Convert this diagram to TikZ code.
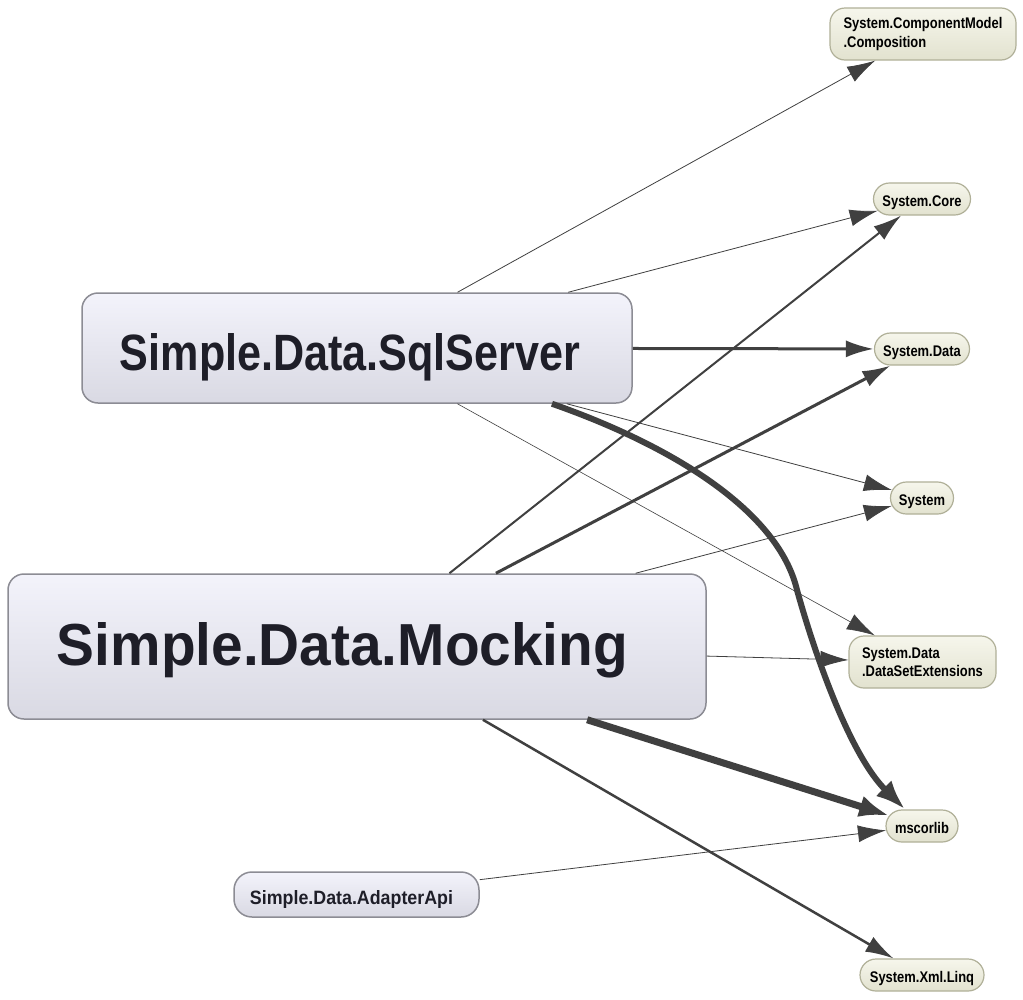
\documentclass[tikz,border=0pt]{standalone}
\usepackage{fontspec}
\usepackage{graphicx}
\newfontfamily\nf[FakeStretch=0.84]{Liberation Sans}
\newfontfamily\lsfont{Liberation Sans}
\usetikzlibrary{arrows.meta,shapes.misc}
\definecolor{edgec}{HTML}{404040}
\definecolor{txt}{HTML}{1E1E28}
\definecolor{bigborder}{HTML}{8C8C94}
\definecolor{bigtop}{HTML}{F3F3FB}
\definecolor{bigbot}{HTML}{D9D9E3}
\definecolor{smborder}{HTML}{B0B098}
\definecolor{smtop}{HTML}{F6F6EC}
\definecolor{smbot}{HTML}{E2E2CF}
\newcommand{\bigtext}[3]{\resizebox{#1}{#2}{\lsfont\bfseries #3}}
\tikzset{
  bignode/.style={draw=bigborder, line width=1.5pt, rounded corners=16pt, top color=bigtop, bottom color=bigbot, text=txt, inner sep=0pt, text depth=0pt},
  smallnode/.style={rounded rectangle, draw=smborder, line width=1.2pt, top color=smtop, bottom color=smbot, text=black, inner xsep=2pt, inner ysep=0pt, minimum height=32pt, text height=14pt, text depth=0pt, font=\nf\bfseries\fontsize{15.4}{18}\selectfont},
  smalltwo/.style={rectangle, rounded corners=15pt, draw=smborder, line width=1.2pt, top color=smtop, bottom color=smbot, text=black, inner xsep=8pt, inner ysep=0pt, minimum height=52pt, align=left, font=\nf\bfseries\fontsize{15.4}{18.5}\selectfont},
  edge/.style={draw=edgec, -{Latex[length=28pt,width=17pt]}, line width=1pt},
  heavy/.style={draw=edgec, -{Latex[length=30pt,width=22pt]}},
}
\begin{document}
\begin{tikzpicture}[x=1pt,y=-1pt]
\path[use as bounding box, fill=white] (0,0) rectangle (1023,999);
% target nodes
\node[smalltwo, minimum width=186pt] (comp) at (923,34) {System.ComponentModel\\.Composition};
\node[smallnode, minimum width=101pt] (core) at (922,199) {System.Core};
\node[smallnode, minimum width=99pt] (data) at (922,349) {System.Data};
\node[smallnode, minimum width=67pt] (sys) at (922,498) {System};
\node[smalltwo, minimum width=147pt] (dse) at (922.5,662) {System.Data\\.DataSetExtensions};
\node[smallnode, minimum width=76pt] (msc) at (922,826) {mscorlib};
\node[smallnode, minimum width=128pt] (xml) at (922,975) {System.Xml.Linq};
% source nodes
\node[bignode, minimum width=550pt, minimum height=110pt, text height=44pt] (sql) at (357,348) {\bigtext{460pt}{37pt}{Simple.Data.SqlServer}\kern14pt};
\node[bignode, minimum width=698pt, minimum height=145pt, text height=37pt] (mock) at (357,646.5) {\bigtext{571pt}{43pt}{Simple.Data.Mocking}\kern29pt};
\node[bignode, rounded corners=18pt, minimum width=245pt, minimum height=45pt, text height=19pt] (adapt) at (356.5,894.5) {\bigtext{203pt}{14pt}{Simple.Data.AdapterApi}\kern10pt};
% edges from SqlServer
\draw[edge, line width=0.8pt] (sql) -- (comp);
\draw[edge, line width=0.8pt] (sql) -- (core);
\draw[edge, line width=3pt] (sql) -- (data);
\draw[edge, line width=0.8pt] (sql) -- (sys);
\draw[edge, line width=0.6pt] (sql) -- (dse);
\draw[heavy, line width=6pt] ([xshift=195pt]sql.south) .. controls (670,445) and (778,510) .. (797,590) .. controls (815,655) and (850,755) .. (msc);
% edges from Mocking
\draw[edge, line width=2pt] (mock) -- (core);
\draw[edge, line width=3pt] (mock) -- (data);
\draw[edge, line width=0.8pt] (mock) -- (sys);
\draw[edge, line width=0.8pt] (mock) -- (dse);
\draw[heavy, line width=7pt] (mock) -- (msc);
\draw[edge, line width=2.5pt] (mock) -- (xml);
% AdapterApi
\draw[edge, line width=0.8pt] (adapt) -- (msc);
\end{tikzpicture}
\end{document}
